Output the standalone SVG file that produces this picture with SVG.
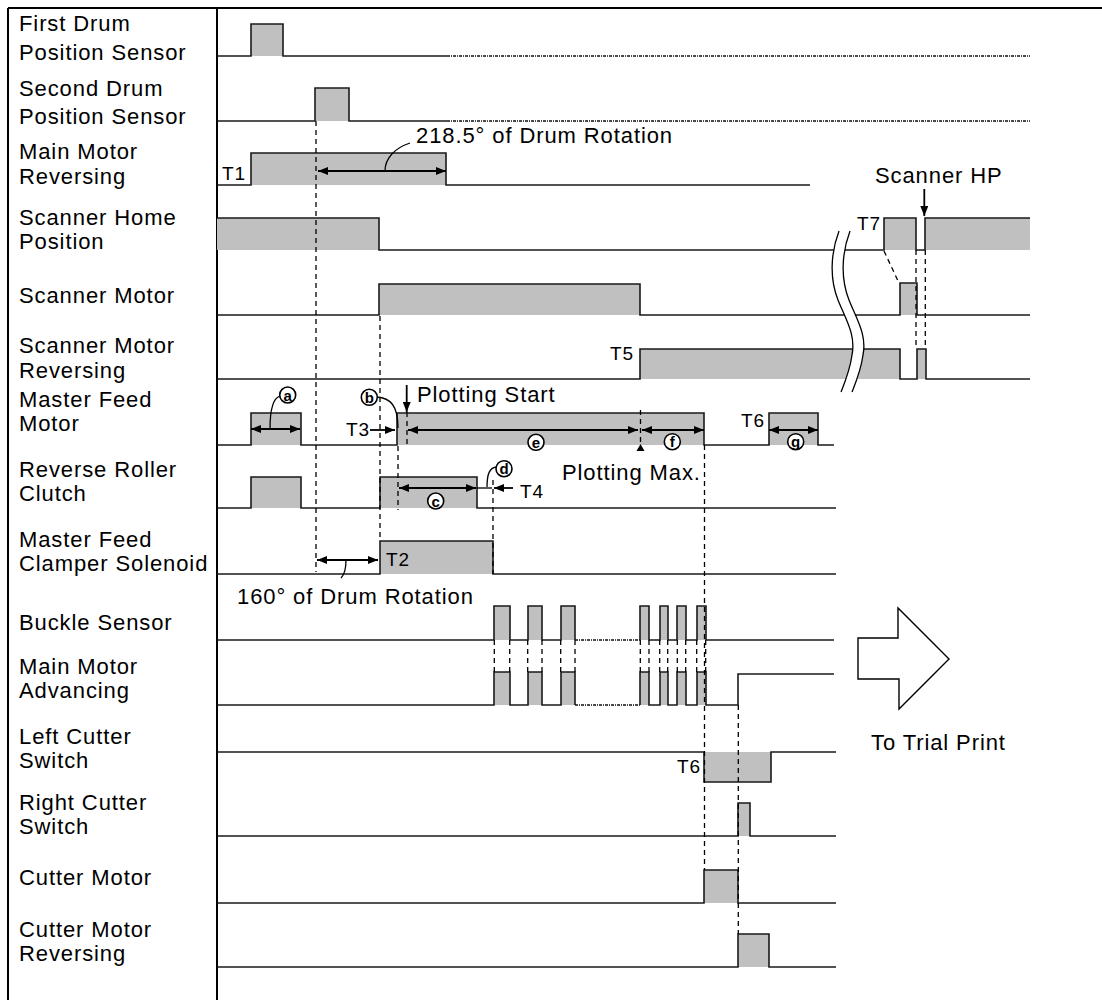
<svg xmlns="http://www.w3.org/2000/svg" width="1102" height="1000" viewBox="0 0 1102 1000">
<style>
.sig{fill:none;stroke:#1a1a1a;stroke-width:1.6}
.g{fill:#c0c0c0}
.dash{fill:none;stroke:#000;stroke-width:1.3;stroke-dasharray:5 4}
.dd{fill:none;stroke:#111;stroke-width:1.4;stroke-dasharray:3 1 1 1}
.frame{fill:none;stroke:#000;stroke-width:2}
.lbl{font-family:"Liberation Sans",Arial,sans-serif;font-size:22px;letter-spacing:0.9px;fill:#000}
.t{font-family:"Liberation Sans",Arial,sans-serif;font-size:19px;letter-spacing:1px;fill:#000}
.arr{fill:none;stroke:#000;stroke-width:1.8;marker-end:url(#ah)}
.arr2{fill:none;stroke:#000;stroke-width:1.8;marker-start:url(#ah);marker-end:url(#ah)}
.ld{fill:none;stroke:#000;stroke-width:1.3}
.cir{fill:#fff;stroke:#000;stroke-width:1.6}
.cl{font-family:"Liberation Sans",Arial,sans-serif;font-size:15px;font-weight:bold;text-anchor:middle;fill:#000}
</style>
<defs>
<marker id="ah" markerUnits="userSpaceOnUse" markerWidth="10" markerHeight="8" refX="10" refY="4" orient="auto-start-reverse">
<path d="M0,0 L10,4 L0,8 z" fill="#000"/>
</marker>
</defs>
<rect width="1102" height="1000" fill="#fff"/>
<g id="frame">
<path class="frame" d="M8,8 H1102 M8,8 V1000 M217,8 V1000"/>
</g>
<g id="row-first-drum">
<text class="lbl" x="19" y="31">First Drum</text>
<text class="lbl" x="19" y="60">Position Sensor</text>
<rect class="g" x="251" y="24" width="32" height="32"/>
<path class="sig" d="M217,56 H251 V24 H283 V56 H447"/>
<path class="dd" d="M447,56 H1030"/>
</g>
<g id="row-second-drum">
<text class="lbl" x="19" y="96">Second Drum</text>
<text class="lbl" x="19" y="124">Position Sensor</text>
<rect class="g" x="315" y="88" width="34" height="33"/>
<path class="sig" d="M217,121 H315 V88 H349 V121 H447"/>
<path class="dd" d="M447,121 H1030"/>
</g>
<g id="row-main-motor-rev">
<text class="lbl" x="19" y="159">Main Motor</text>
<text class="lbl" x="19" y="184">Reversing</text>
<rect class="g" x="251" y="153" width="195" height="32"/>
<path class="sig" d="M217,185 H251 V153 H446 V185 H810"/>
<text class="t" x="222" y="180">T1</text>
</g>
<g id="row-scanner-home">
<text class="lbl" x="19" y="225">Scanner Home</text>
<text class="lbl" x="19" y="249">Position</text>
<rect class="g" x="217" y="218" width="162" height="32"/>
<rect class="g" x="884" y="218" width="32" height="32"/>
<rect class="g" x="925" y="218" width="105" height="32"/>
<path class="sig" d="M217,218 H379 V250 H884 V218 H916 V250 H925 V218 H1030"/>
<text class="t" x="857" y="230">T7</text>
</g>
<g id="row-scanner-motor">
<text class="lbl" x="19" y="303">Scanner Motor</text>
<rect class="g" x="379" y="284" width="261" height="31"/>
<rect class="g" x="900" y="283" width="17" height="32"/>
<path class="sig" d="M217,315 H379 V284 H640 V315 H900 V283 H917 V315 H1030"/>
</g>
<g id="row-scanner-motor-rev">
<text class="lbl" x="19" y="353">Scanner Motor</text>
<text class="lbl" x="19" y="378">Reversing</text>
<rect class="g" x="640" y="349" width="260" height="30"/>
<rect class="g" x="917" y="349" width="9" height="30"/>
<path class="sig" d="M217,379 H640 V349 H900 V379 H917 V349 H926 V379 H1030"/>
<text class="t" x="610" y="360">T5</text>
</g>
<g id="break">
<path d="M839,231 C830,255 830,280 838,300 C846,320 856,335 852,355 C850,370 845,382 841,392 L852,392 C856,382 861,370 863,355 C867,335 857,320 849,300 C841,280 841,255 850,231 Z" fill="#fff"/>
<path class="ld" d="M839,231 C830,255 830,280 838,300 C846,320 856,335 852,355 C850,370 845,382 841,392"/>
<path class="ld" d="M850,231 C841,255 841,280 849,300 C857,320 867,335 863,355 C861,370 856,382 852,392"/>
</g>
<g id="row-master-feed-motor">
<text class="lbl" x="19" y="407">Master Feed</text>
<text class="lbl" x="19" y="431">Motor</text>
<rect class="g" x="251" y="413" width="50" height="32"/>
<rect class="g" x="397" y="413" width="307" height="32"/>
<rect class="g" x="769" y="413" width="49" height="32"/>
<path class="sig" d="M217,445 H251 V413 H301 V445 H397 V413 H704 V445 H769 V413 H818 V445 H834"/>
<text class="t" x="741" y="427">T6</text>
<text class="t" x="346" y="436">T3</text>
<text class="lbl" x="417" y="402">Plotting Start</text>
<text class="lbl" x="562" y="480">Plotting Max.</text>
</g>
<g id="row-reverse-roller">
<text class="lbl" x="19" y="477">Reverse Roller</text>
<text class="lbl" x="19" y="501">Clutch</text>
<rect class="g" x="251" y="477" width="50" height="31"/>
<rect class="g" x="380" y="477" width="97" height="31"/>
<path class="sig" d="M217,508 H251 V477 H301 V508 H380 V477 H477 V508 H836"/>
<text class="t" x="520" y="498">T4</text>
</g>
<g id="row-clamper">
<text class="lbl" x="19" y="547">Master Feed</text>
<text class="lbl" x="19" y="571">Clamper Solenoid</text>
<rect class="g" x="380" y="541" width="113" height="33"/>
<path class="sig" d="M217,574 H380 V541 H493 V574 H836"/>
<text class="t" x="386" y="566">T2</text>
<text class="lbl" x="237" y="604">160° of Drum Rotation</text>
</g>
<g id="row-buckle">
<text class="lbl" x="19" y="630">Buckle Sensor</text>
<path class="g" d="M494,606 h16 v34 h-16z M528,606 h14 v34 h-14z M561,606 h14 v34 h-14z M640,606 h9 v34 h-9z M660,606 h8 v34 h-8z M677,606 h9 v34 h-9z M697,606 h9 v34 h-9z"/>
<path class="sig" d="M217,640 H494 V606 H510 V640 H528 V606 H542 V640 H561 V606 H575 V640 M640,640 V606 H649 V640 H660 V606 H668 V640 H677 V606 H686 V640 H697 V606 H706 V640 H834"/>
<path class="dd" d="M575,640 H640"/>
</g>
<g id="row-main-motor-adv">
<text class="lbl" x="19" y="674">Main Motor</text>
<text class="lbl" x="19" y="698">Advancing</text>
<path class="g" d="M494,672 h16 v33 h-16z M528,672 h14 v33 h-14z M561,672 h14 v33 h-14z M640,672 h9 v33 h-9z M660,672 h8 v33 h-8z M677,672 h9 v33 h-9z M697,672 h9 v33 h-9z"/>
<path class="sig" d="M217,705 H494 V672 H510 V705 H528 V672 H542 V705 H561 V672 H575 V705 M640,705 V672 H649 V705 H660 V672 H668 V705 H677 V672 H686 V705 H697 V672 H706 V705 H738 V674 H834"/>
<path class="dd" d="M575,705 H640"/>
</g>
<g id="row-left-cutter">
<text class="lbl" x="19" y="744">Left Cutter</text>
<text class="lbl" x="19" y="768">Switch</text>
<rect class="g" x="704" y="752" width="67" height="30"/>
<path class="sig" d="M217,752 H704 V782 H771 V752 H836"/>
<text class="t" x="677" y="773">T6</text>
</g>
<g id="row-right-cutter">
<text class="lbl" x="19" y="810">Right Cutter</text>
<text class="lbl" x="19" y="834">Switch</text>
<rect class="g" x="738" y="803" width="12" height="33"/>
<path class="sig" d="M217,836 H738 V803 H750 V836 H836"/>
</g>
<g id="row-cutter-motor">
<text class="lbl" x="19" y="885">Cutter Motor</text>
<rect class="g" x="704" y="870" width="34" height="33"/>
<path class="sig" d="M217,903 H704 V870 H738 V903 H836"/>
</g>
<g id="row-cutter-motor-rev">
<text class="lbl" x="19" y="937">Cutter Motor</text>
<text class="lbl" x="19" y="961">Reversing</text>
<rect class="g" x="738" y="934" width="31" height="33"/>
<path class="sig" d="M217,967 H738 V934 H769 V967 H836"/>
</g>
<g id="to-trial-print">
<polygon points="858,638 898,638 898,608 949,659 899,709 899,679 858,679" fill="#fff" stroke="#000" stroke-width="1.4"/>
<text class="lbl" x="871" y="750">To Trial Print</text>
</g>
<g id="scanner-hp">
<text class="lbl" x="875" y="183">Scanner HP</text>
</g>
<g id="connectors">
<path class="dash" d="M316,121 V572 M380,316 V541 M398,446 V510 M407,412 V445 M493,480 V574 M640.5,410 V443 M704.5,445 V870 M738.3,705 V934 M916,250 V349 M925.3,250 V349 M884,251 L899,283"/>
<path class="dash" d="M494.3,640 V672 M509.7,640 V672 M527.7,640 V672 M542,640 V672 M560.7,640 V672 M575,640 V672 M640.3,640 V672 M649,640 V672 M659.7,640 V672 M667.7,640 V672 M677.3,640 V672 M685.7,640 V672 M696.7,640 V672 M705.7,640 V672"/>
<path class="arr2" d="M318,171 H446"/>
<path class="ld" d="M385,171 C385,158 395,148 410,143"/>
<text class="lbl" x="416" y="143">218.5° of Drum Rotation</text>
<path class="arr" d="M924.3,189 V216"/>
<path class="arr2" d="M251,429 H300"/>
<path class="ld" d="M270,429 C270,410 273,398 280,396"/>
<path class="arr" d="M370,430 H395"/>
<path class="ld" d="M377,397 C390,398 398,405 398,428"/>
<path class="arr" d="M406.7,385 V412"/>
<path class="arr2" d="M408,430 H638"/>
<path class="arr2" d="M642,430 H704"/>
<path class="arr2" d="M769,430 H818"/>
<polygon points="640.5,444 644.5,451 636.5,451" fill="#000"/>
<path class="arr2" d="M399,488 H476"/>
<path class="ld" d="M477,488 H492"/>
<path class="arr" d="M513,488 H494"/>
<path class="ld" d="M496,467 C490,468 487,473 487,487"/>
<path class="arr2" d="M317,560 H378"/>
<path class="ld" d="M346,560 C346,569 345,574 341,578"/>
<circle class="cir" cx="287.7" cy="395" r="8"/><text class="cl" x="287.7" y="400.5">a</text>
<circle class="cir" cx="369.3" cy="397.3" r="8"/><text class="cl" x="369.3" y="402.8">b</text>
<circle class="cir" cx="435.7" cy="501" r="8"/><text class="cl" x="435.7" y="506.5">c</text>
<circle class="cir" cx="504" cy="468.7" r="8"/><text class="cl" x="504" y="474.2">d</text>
<circle class="cir" cx="536" cy="442.3" r="8"/><text class="cl" x="536" y="447.8">e</text>
<circle class="cir" cx="672.3" cy="441.7" r="8"/><text class="cl" x="672.3" y="447.2">f</text>
<circle class="cir" cx="795.7" cy="441.7" r="8"/><text class="cl" x="795.7" y="446.7">g</text>
</g>
</svg>
